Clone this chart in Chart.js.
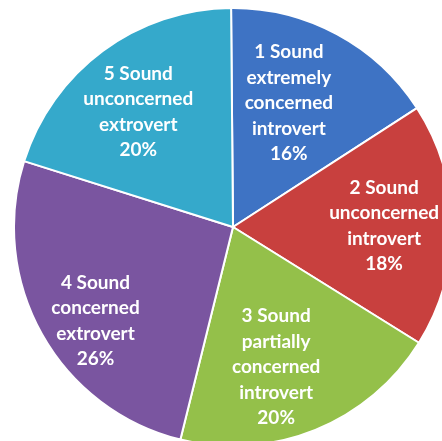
<!DOCTYPE html>
<html>
<head>
<meta charset="utf-8">
<script src="https://cdn.jsdelivr.net/npm/chart.js@4"></script>
<style>
  html, body { margin: 0; padding: 0; background: #fff; overflow: hidden; }
  body { width: 442px; height: 441px; position: relative; }
  #wrap { position: absolute; left: 13px; top: 7px; width: 440px; height: 440px; }
</style>
</head>
<body>
<div id="wrap"><canvas id="pieChart"></canvas></div>
<script>
// data pie
const categories = [
    ['1 Sound', 'extremely', 'concerned', 'introvert'],
    ['2 Sound', 'unconcerned', 'introvert'],
    ['3 Sound', 'partially', 'concerned', 'introvert'],
    ['4 Sound', 'concerned', 'extrovert'],
    ['5 Sound', 'unconcerned', 'extrovert']
];
const values = [16, 18, 20, 26, 20];
const colors = ['#3E73C4', '#C8403E', '#94C04A', '#7A55A0', '#35A9CB'];
// posisi label: jarak relatif ke jari-jari dan geseran sudut (derajat)
const labelRadius = [0.62, 0.69, 0.67, 0.76, 0.68];
const labelTurn = [-4, 0, 5, -5, -3];

// plugin untuk label di dalam irisan
const sliceLabels = {
    id: 'sliceLabels',
    afterDatasetsDraw(chart) {
        const ctx = chart.ctx;
        const meta = chart.getDatasetMeta(0);
        ctx.save();
        ctx.fillStyle = '#fff';
        ctx.font = 'bold 19px Lato, "Open Sans", sans-serif';
        ctx.textAlign = 'center';
        ctx.textBaseline = 'middle';
        meta.data.forEach((arc, i) => {
            const p = arc.getProps(['x', 'y', 'startAngle', 'endAngle', 'outerRadius'], true);
            const mid = (p.startAngle + p.endAngle) / 2 + labelTurn[i] * Math.PI / 180;
            const r = p.outerRadius * labelRadius[i];
            const cx = p.x + Math.cos(mid) * r;
            const cy = p.y + Math.sin(mid) * r;
            const lines = categories[i].concat([values[i] + '%']);
            const lh = 25.5;
            const top = cy - (lines.length - 1) * lh / 2;
            lines.forEach((t, j) => ctx.fillText(t, cx, top + j * lh));
        });
        ctx.restore();
    }
};

const ctx = document.getElementById('pieChart').getContext('2d');
const pieChart = new Chart(ctx, {
    type: 'pie',
    data: {
        labels: categories.map(c => c.join(' ')),
        datasets: [{
            data: values,
            backgroundColor: colors,
            borderColor: '#fff',
            borderWidth: 2
        }]
    },
    options: {
        responsive: true,
        maintainAspectRatio: false,
        animation: false,
        rotation: -0.5,
        layout: { padding: 0 },
        plugins: {
            legend: { display: false },
            tooltip: { enabled: false }
        }
    },
    plugins: [sliceLabels]
});
</script>
</body>
</html>
